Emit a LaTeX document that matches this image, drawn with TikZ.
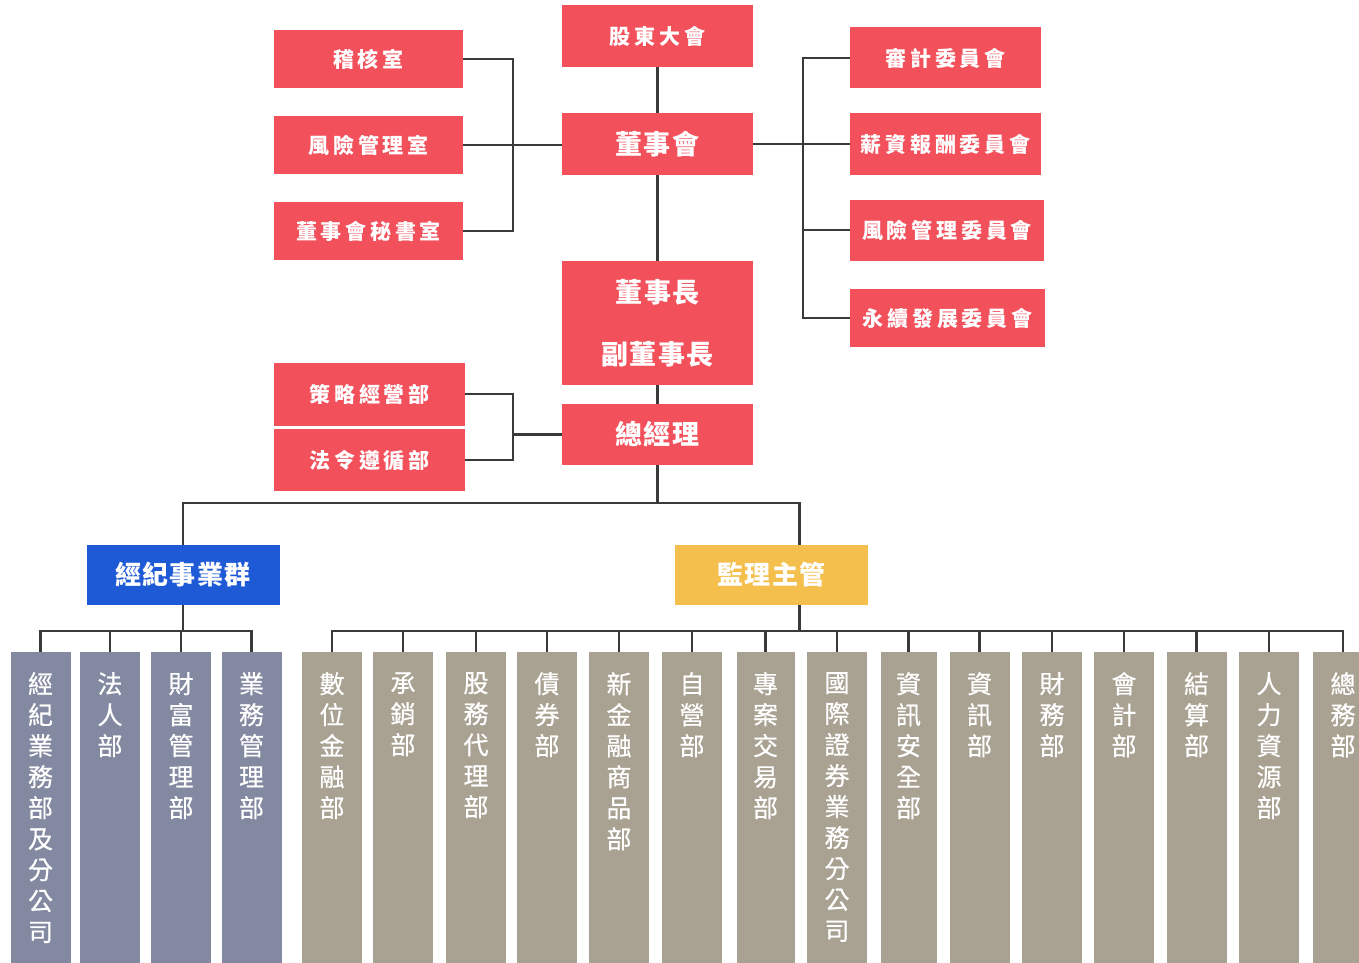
\documentclass[tikz,border=0pt]{standalone}
\usepackage{fontspec}
\setmainfont{Noto Sans CJK TC}
\newfontfamily\bxA{Noto Sans CJK TC}[LetterSpace=18]
\newfontfamily\bxB{Noto Sans CJK TC}[LetterSpace=5]
\newfontfamily\cx{Noto Sans CJK TC}[FakeBold=0.6]
\definecolor{myred}{HTML}{F2505A}
\definecolor{myblue}{HTML}{1F5AD6}
\definecolor{myyellow}{HTML}{F4BF4C}
\definecolor{slatec}{HTML}{8289A0}
\definecolor{tanc}{HTML}{A9A192}
\definecolor{wirec}{HTML}{3A3A3A}
\tikzset{
  box/.style={rectangle, inner sep=0pt, text=white},
  redbox/.style={box, fill=myred},
  smallt/.style={font=\bxA\bfseries\fontsize{21}{24}\selectfont},
  bigt/.style={font=\bxB\bfseries\fontsize{27}{30}\selectfont},
  midt/.style={font=\bxB\bfseries\fontsize{26}{30}\selectfont},
  wire/.style={draw=wirec, line width=2.2pt},
  colbox/.style={rectangle, inner sep=0pt, anchor=north, minimum width=60pt, minimum height=330pt},
  slatebox/.style={colbox, fill=slatec},
  tanbox/.style={colbox, fill=tanc},
  coltext/.style={anchor=north, align=center, text=white, inner sep=0pt, font=\cx\fontsize{25}{31}\selectfont}
}
\begin{document}
\begin{tikzpicture}[x=1pt,y=-1pt]
\path[use as bounding box, fill=white] (0,0) rectangle (1359,963);
\clip (0,0) rectangle (1359,963);

% top column
\node[redbox, smallt, minimum width=191pt, minimum height=62pt] (gm) at (657.5,36) {股東大會};
\node[redbox, bigt, minimum width=191pt, minimum height=62pt] (bod) at (657.5,144) {董事會};
\node[redbox, align=center, font=\bxB\bfseries\fontsize{27}{62}\selectfont, minimum width=191pt, minimum height=124pt] (chair) at (657.5,323) {董事長\\副董事長};
\node[redbox, bigt, minimum width=191pt, minimum height=61pt] (ceo) at (657.5,434.5) {總經理};

% left offices
\node[redbox, smallt, minimum width=189pt, minimum height=58pt] (audit) at (368.5,59) {稽核室};
\node[redbox, smallt, minimum width=189pt, minimum height=58pt] (risk) at (368.5,145) {風險管理室};
\node[redbox, smallt, minimum width=189pt, minimum height=58pt] (sec) at (368.5,231) {董事會秘書室};

% right committees
\node[redbox, smallt, minimum width=191pt, minimum height=61pt] (ac) at (945.5,58) {審計委員會};
\node[redbox, smallt, minimum width=191pt, minimum height=62pt] (comp) at (945.5,144) {薪資報酬委員會};
\node[redbox, smallt, minimum width=194pt, minimum height=61pt] (rmc) at (947,230) {風險管理委員會};
\node[redbox, smallt, minimum width=195pt, minimum height=58pt] (esg) at (947.5,318) {永續發展委員會};

% strategy / legal
\node[redbox, smallt, minimum width=191pt, minimum height=63pt] (strat) at (369.5,394) {策略經營部};
\node[redbox, smallt, minimum width=191pt, minimum height=62pt] (legal) at (369.5,460) {法令遵循部};

% groups
\node[box, fill=myblue, midt, minimum width=193pt, minimum height=60pt] (brok) at (183,575) {經紀事業群};
\node[box, fill=myyellow, midt, minimum width=193pt, minimum height=60pt] (sup) at (771.5,575) {監理主管};

% slate columns
\node[slatebox] (s1) at (40.5,652) {};
\node[slatebox] (s2) at (110,652) {};
\node[slatebox] (s3) at (181,652) {};
\node[slatebox] (s4) at (251.5,652) {};
\node[coltext] (s1t) at ([yshift=-20pt]s1.north) {經\\紀\\業\\務\\部\\及\\分\\公\\司};
\node[coltext] (s2t) at ([yshift=-20pt]s2.north) {法\\人\\部};
\node[coltext] (s3t) at ([yshift=-20pt]s3.north) {財\\富\\管\\理\\部};
\node[coltext] (s4t) at ([yshift=-20pt]s4.north) {業\\務\\管\\理\\部};

% tan columns
\node[tanbox] (t1) at (332,652) {};
\node[tanbox] (t2) at (403,652) {};
\node[tanbox] (t3) at (476,652) {};
\node[tanbox] (t4) at (547,652) {};
\node[tanbox] (t5) at (619,652) {};
\node[tanbox] (t6) at (692,652) {};
\node[tanbox, minimum width=58pt] (t7) at (765.5,652) {};
\node[tanbox] (t8) at (837,652) {};
\node[tanbox, minimum width=56pt] (t9) at (908.5,652) {};
\node[tanbox] (t10) at (979.5,652) {};
\node[tanbox] (t11) at (1052,652) {};
\node[tanbox] (t12) at (1124,652) {};
\node[tanbox] (t13) at (1196.5,652) {};
\node[tanbox] (t14) at (1269,652) {};
\node[tanbox] (t15) at (1343,652) {};
\node[coltext] (t1t) at ([yshift=-20pt]t1.north) {數\\位\\金\\融\\部};
\node[coltext] (t2t) at ([yshift=-20pt]t2.north) {承\\銷\\部};
\node[coltext] (t3t) at ([yshift=-20pt]t3.north) {股\\務\\代\\理\\部};
\node[coltext] (t4t) at ([yshift=-20pt]t4.north) {債\\券\\部};
\node[coltext] (t5t) at ([yshift=-20pt]t5.north) {新\\金\\融\\商\\品\\部};
\node[coltext] (t6t) at ([yshift=-20pt]t6.north) {自\\營\\部};
\node[coltext] (t7t) at ([yshift=-20pt]t7.north) {專\\案\\交\\易\\部};
\node[coltext] (t8t) at ([yshift=-20pt]t8.north) {國\\際\\證\\券\\業\\務\\分\\公\\司};
\node[coltext] (t9t) at ([yshift=-20pt]t9.north) {資\\訊\\安\\全\\部};
\node[coltext] (t10t) at ([yshift=-20pt]t10.north) {資\\訊\\部};
\node[coltext] (t11t) at ([yshift=-20pt]t11.north) {財\\務\\部};
\node[coltext] (t12t) at ([yshift=-20pt]t12.north) {會\\計\\部};
\node[coltext] (t13t) at ([yshift=-20pt]t13.north) {結\\算\\部};
\node[coltext] (t14t) at ([yshift=-20pt]t14.north) {人\\力\\資\\源\\部};
\node[coltext] (t15t) at ([yshift=-20pt]t15.north) {總\\務\\部};

% connectors: top
\draw[wire] (gm) -- (bod);
\draw[wire] (bod) -- (chair);
\draw[wire] (chair) -- (ceo);
\coordinate (lj) at (513,145);
\draw[wire] (audit.east) -| (lj) |- (sec.east);
\draw[wire] (risk.east) -- (bod.west |- risk.east);
\coordinate (rj) at (803,144);
\draw[wire] (ac.west) -| (rj) |- (esg.west);
\draw[wire] (bod.east) -- (comp.west);
\draw[wire] (rj) |- (rmc.west);
\coordinate (mj) at (513,434.5);
\draw[wire] (strat.east) -| (mj) |- (legal.east);
\draw[wire] (mj) -- (ceo.west);

% main bus
\coordinate (b1) at (657.5,503);
\coordinate (supin) at ([xshift=28pt]sup.north);
\coordinate (supout) at ([xshift=28pt]sup.south);
\draw[wire] (ceo.south) -- (b1);
\draw[wire] (brok.north) |- (b1) -| (supin);

% brokerage bus
\coordinate (bb) at (183,631);
\draw[wire] (brok.south) -- (bb);
\draw[wire] (s1.north) |- (bb) -| (s4.north);
\draw[wire] (bb -| s2.north) -- (s2.north);
\draw[wire] (bb -| s3.north) -- (s3.north);

% supervisor bus
\coordinate (sb) at (799.5,631);
\draw[wire] (supout) -- (sb);
\draw[wire] (t1.north) |- (sb) -| (t15.north);
\foreach \i in {2,...,14} {
  \draw[wire] (sb -| t\i.north) -- (t\i.north);
}
\end{tikzpicture}
\end{document}
